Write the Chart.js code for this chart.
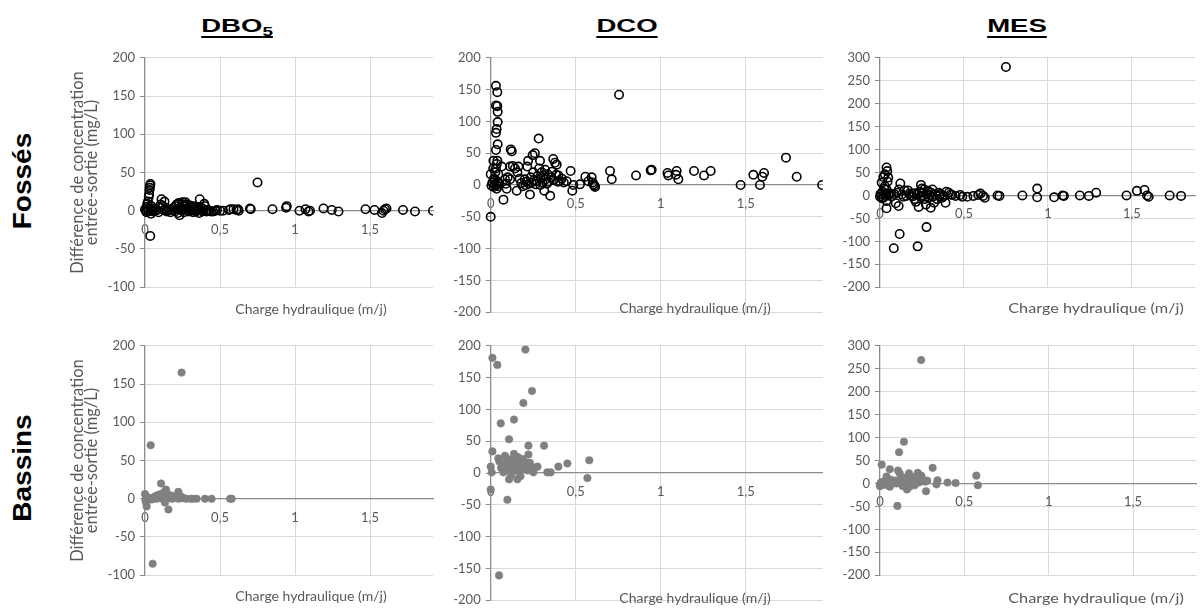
<!DOCTYPE html>
<html><head><meta charset="utf-8">
<script src="https://cdn.jsdelivr.net/npm/chart.js@4/dist/chart.umd.min.js"></script>
<style>
html,body{margin:0;padding:0;background:#fff;}
body{position:relative;width:1201px;height:610px;overflow:hidden;font-family:Lato,sans-serif;}
canvas{position:absolute;}
.hdr{position:absolute;top:13.7px;font:bold 19px "Liberation Sans",Arial,sans-serif;line-height:24px;color:#000;white-space:nowrap;
 text-decoration:underline;text-decoration-thickness:2px;text-underline-offset:4px;transform:translateX(-50%) scaleX(1.45);}
.hdr sub{font-size:13px;vertical-align:-4px;line-height:0;}
.row{position:absolute;font:bold 25px "Liberation Sans",Arial,sans-serif;line-height:25px;color:#000;white-space:nowrap;
 transform:translate(-50%,-50%) rotate(-90deg) scaleX(1.12);}
.xt{position:absolute;font:14px Lato,sans-serif;color:#595959;white-space:nowrap;transform:translate(-50%,-50%);}
.xt.w{transform:translate(-50%,-50%) scaleX(1.16);}
</style></head>
<body>
<div class="hdr" style="left:237px">DBO<sub>5</sub></div>
<div class="hdr" style="left:627px">DCO</div>
<div class="hdr" style="left:1017px">MES</div>
<div class="row" style="left:22px;top:181px">Fossés</div>
<div class="row" style="left:22px;top:468px">Bassins</div>

<canvas id="c1" width="380" height="255" style="left:60px;top:45px;width:380px;height:255px"></canvas>
<canvas id="c2" width="390" height="280" style="left:440px;top:45px;width:390px;height:280px"></canvas>
<canvas id="c3" width="371" height="255" style="left:830px;top:45px;width:371px;height:255px"></canvas>
<canvas id="c4" width="380" height="255" style="left:60px;top:333px;width:380px;height:255px"></canvas>
<canvas id="c5" width="390" height="280" style="left:440px;top:333px;width:390px;height:280px"></canvas>
<canvas id="c6" width="371" height="255" style="left:830px;top:333px;width:371px;height:255px"></canvas>

<div class="xt" style="left:311px;top:308px">Charge hydraulique (m/j)</div>
<div class="xt" style="left:695px;top:307px">Charge hydraulique (m/j)</div>
<div class="xt w" style="left:1096px;top:307px">Charge hydraulique (m/j)</div>
<div class="xt" style="left:311px;top:595px">Charge hydraulique (m/j)</div>
<div class="xt" style="left:695px;top:597px">Charge hydraulique (m/j)</div>
<div class="xt w" style="left:1096px;top:597px">Charge hydraulique (m/j)</div>

<script>
// ---- tick labels ----
const xTickLabels = ['0', '0,5', '1', '1,5'];
const yTitleLines = ['Différence de concentration', 'entrée-sortie (mg/L)'];

// ---- data: [charge hydraulique (m/j), différence entrée-sortie (mg/L)] ----
const dboFosses = [[0,2],[0.005,0],[0.01,-2],[0.012,5],[0.015,9],[0.018,3],[0.02,12],[0.022,-1],[0.025,18],[0.028,22],[0.03,27],[0.032,30],[0.034,33],[0.036,35],[0.035,-33],[0.038,2],[0.04,-4],[0.042,6],[0.045,0],[0.05,1],[0.055,-1],[0.06,3],[0.07,0],[0.08,1],[0.09,-2],[0.1,4],[0.105,8],[0.11,15],[0.12,6],[0.125,1],[0.13,12],[0.14,3],[0.145,-1],[0.15,0],[0.16,2],[0.17,-2],[0.18,1],[0.19,4],[0.2,-1],[0.205,6],[0.21,8],[0.215,2],[0.22,-3],[0.225,10],[0.23,-6],[0.235,4],[0.24,1],[0.245,8],[0.25,11],[0.255,3],[0.26,-2],[0.265,6],[0.27,11],[0.275,1],[0.28,8],[0.285,3],[0.29,-1],[0.295,5],[0.3,7],[0.305,2],[0.31,0],[0.315,4],[0.32,-2],[0.325,6],[0.33,1],[0.335,3],[0.34,-1],[0.345,0],[0.35,2],[0.355,5],[0.36,-3],[0.365,15],[0.37,1],[0.375,4],[0.38,0],[0.385,-1],[0.39,2],[0.395,9],[0.4,6],[0.41,-1],[0.42,1],[0.43,0],[0.44,-1],[0.455,-1],[0.47,0],[0.48,1],[0.5,0],[0.52,0],[0.56,1],[0.57,2],[0.59,2],[0.61,1],[0.62,2],[0.625,0],[0.7,3],[0.705,2],[0.75,37],[0.85,2],[0.94,4],[0.945,6],[1.03,0],[1.07,2],[1.09,-1],[1.1,0],[1.19,3],[1.245,1],[1.29,-1],[1.47,2],[1.53,1],[1.58,-3],[1.59,0],[1.6,2],[1.61,3],[1.72,1],[1.8,-1],[1.92,0]];

const dcoFosses = [[0,17],[0,-50],[0.005,-1],[0.01,4],[0.015,26],[0.016,38],[0.018,-3],[0.02,10],[0.022,1],[0.025,9],[0.028,20],[0.031,156],[0.031,125],[0.031,82],[0.031,55],[0.031,26],[0.033,0],[0.035,88],[0.035,-6],[0.036,33],[0.039,146],[0.039,124],[0.039,38],[0.04,5],[0.041,115],[0.041,99],[0.041,64],[0.043,-2],[0.045,17],[0.05,3],[0.065,29],[0.075,-23],[0.084,9],[0.09,2],[0.094,-6],[0.1,12],[0.114,9],[0.114,29],[0.118,56],[0.124,53],[0.13,30],[0.143,26],[0.153,-9],[0.157,20],[0.163,29],[0.17,10],[0.18,3],[0.19,-2],[0.2,9],[0.205,0],[0.21,5],[0.215,29],[0.22,38],[0.225,2],[0.231,-15],[0.235,12],[0.24,4],[0.247,47],[0.25,20],[0.255,8],[0.26,50],[0.265,1],[0.27,6],[0.275,14],[0.282,73],[0.285,26],[0.29,38],[0.292,0],[0.295,10],[0.3,20],[0.305,4],[0.31,15],[0.315,-9],[0.32,24],[0.325,9],[0.33,2],[0.335,17],[0.34,5],[0.35,-17],[0.355,12],[0.36,21],[0.368,41],[0.37,8],[0.378,35],[0.385,16],[0.388,32],[0.395,5],[0.398,15],[0.408,6],[0.418,10],[0.43,4],[0.447,6],[0.47,22],[0.48,-9],[0.486,0],[0.525,1],[0.557,13],[0.575,6],[0.594,12],[0.6,4],[0.604,1],[0.61,-1],[0.614,-3],[0.702,22],[0.712,9],[0.755,142],[0.855,15],[0.941,23],[0.947,24],[1.04,19],[1.045,15],[1.09,16],[1.094,22],[1.104,9],[1.196,22],[1.255,15],[1.294,22],[1.47,0],[1.545,16],[1.584,0],[1.598,13],[1.608,19],[1.737,43],[1.8,13],[1.95,0]];

const mesFosses = [[0,-3],[0.003,3],[0.006,2],[0.01,28],[0.012,-6],[0.015,8],[0.02,40],[0.02,-5],[0.025,15],[0.029,46],[0.029,20],[0.032,-1],[0.035,5],[0.039,61],[0.039,13],[0.039,-12],[0.039,-28],[0.043,53],[0.045,30],[0.049,39],[0.05,0],[0.06,4],[0.07,-2],[0.082,-115],[0.085,3],[0.094,-17],[0.1,6],[0.111,-23],[0.113,13],[0.117,-84],[0.121,26],[0.13,2],[0.14,-3],[0.146,11],[0.156,-1],[0.166,11],[0.175,4],[0.185,0],[0.195,-2],[0.2,5],[0.205,-8],[0.214,-14],[0.22,3],[0.224,-111],[0.23,-25],[0.235,8],[0.24,-3],[0.244,23],[0.25,15],[0.253,6],[0.258,0],[0.263,13],[0.265,-8],[0.273,-20],[0.277,-69],[0.28,4],[0.285,10],[0.29,-5],[0.295,1],[0.302,-27],[0.305,6],[0.312,13],[0.315,-3],[0.322,-16],[0.33,2],[0.34,-8],[0.35,6],[0.355,-1],[0.36,3],[0.37,-5],[0.38,-1],[0.39,-16],[0.395,8],[0.41,6],[0.42,2],[0.43,1],[0.45,-1],[0.478,1],[0.49,-3],[0.52,-3],[0.556,-1],[0.585,1],[0.598,4],[0.614,-1],[0.624,-5],[0.7,0],[0.711,-1],[0.75,280],[0.848,0],[0.936,15],[0.936,-4],[1.037,-4],[1.088,0],[1.095,-1],[1.19,0],[1.244,-1],[1.287,6],[1.468,0],[1.53,10],[1.575,12],[1.59,0],[1.6,-3],[1.725,0],[1.793,-1]];

const dboBassins = [[0,6],[0.003,-2],[0.007,-5],[0.011,-10],[0.015,2],[0.02,0],[0.033,1],[0.038,70],[0.045,-1],[0.051,-85],[0.06,2],[0.067,3],[0.075,0],[0.08,4],[0.089,5],[0.095,2],[0.1,1],[0.105,6],[0.107,20],[0.11,3],[0.115,0],[0.122,5],[0.125,8],[0.13,2],[0.133,-5],[0.14,12],[0.142,0],[0.144,3],[0.15,6],[0.156,-14],[0.16,2],[0.167,1],[0.175,4],[0.18,0],[0.189,3],[0.2,1],[0.211,2],[0.222,9],[0.225,0],[0.233,4],[0.244,165],[0.25,1],[0.256,1],[0.273,0],[0.304,0],[0.32,0],[0.344,0],[0.4,0],[0.444,0],[0.567,0],[0.578,0]];

const dcoBassins = [[0,10],[0,-26],[0.006,1],[0.01,181],[0.01,34],[0.039,170],[0.045,23],[0.049,-161],[0.051,18],[0.059,78],[0.061,8],[0.07,5],[0.075,1],[0.084,27],[0.09,16],[0.094,13],[0.098,-42],[0.1,22],[0.104,4],[0.108,53],[0.108,-10],[0.11,9],[0.114,18],[0.12,-3],[0.124,10],[0.13,20],[0.137,84],[0.137,30],[0.14,13],[0.143,4],[0.15,8],[0.153,16],[0.157,-10],[0.16,25],[0.165,2],[0.17,5],[0.173,18],[0.175,-5],[0.18,12],[0.182,7],[0.19,22],[0.192,110],[0.2,13],[0.204,194],[0.21,16],[0.216,4],[0.222,43],[0.222,29],[0.225,10],[0.231,16],[0.243,129],[0.245,5],[0.251,1],[0.26,8],[0.275,10],[0.314,43],[0.333,1],[0.353,1],[0.398,10],[0.451,15],[0.569,-8],[0.58,20]];

const mesBassins = [[0,-2],[0,-6],[0.005,2],[0.01,41],[0.02,4],[0.03,-3],[0.039,15],[0.045,5],[0.058,31],[0.058,-7],[0.065,8],[0.068,-1],[0.08,3],[0.09,6],[0.097,0],[0.103,-49],[0.107,28],[0.113,68],[0.117,22],[0.12,10],[0.127,6],[0.13,-3],[0.136,-6],[0.142,91],[0.145,12],[0.15,4],[0.16,-13],[0.165,15],[0.172,22],[0.175,-7],[0.18,8],[0.185,4],[0.19,14],[0.2,2],[0.205,-4],[0.21,10],[0.214,9],[0.224,23],[0.23,2],[0.235,13],[0.244,269],[0.244,17],[0.25,5],[0.253,9],[0.269,4],[0.273,-17],[0.28,6],[0.312,34],[0.335,-2],[0.341,7],[0.4,2],[0.448,1],[0.571,17],[0.58,-4]];

// ---- styling ----
const GRID = '#d9d9d9', AXIS = '#8c8c8c', TXT = '#595959';
const tickFont = {family: 'Lato', size: 13};

function makeChart(id, data, o) {
  const ds = o.filled
    ? {data: data.map(p => ({x: p[0], y: p[1]})), pointRadius: 3.8, pointBackgroundColor: '#808080', pointBorderColor: '#808080', pointBorderWidth: 0.5}
    : {data: data.map(p => ({x: p[0], y: p[1]})), pointRadius: 4.2, pointBackgroundColor: 'rgba(255,255,255,0)', pointBorderColor: '#000', pointBorderWidth: 1.6};
  ds.pointHoverRadius = ds.pointRadius;
  ds.clip = {left: 10, top: 10, right: 0, bottom: 10};
  return new Chart(document.getElementById(id), {
    type: 'scatter',
    data: {datasets: [ds]},
    options: {
      responsive: false, animation: false, devicePixelRatio: 1,
      layout: {padding: {top: o.pt, right: o.pr, bottom: o.pb, left: 0}},
      plugins: {legend: {display: false}, tooltip: {enabled: false}},
      scales: {
        x: {
          type: 'linear', position: {y: 0}, min: 0, max: o.xMax,
          grid: {color: c => c.tick && c.tick.value === 0 ? 'rgba(0,0,0,0)' : GRID, drawTicks: false, lineWidth: 1},
          border: {color: AXIS, width: 1.3},
          ticks: {stepSize: 0.5, includeBounds: false, autoSkip: false, maxRotation: 0, color: TXT, font: tickFont, padding: 11,
                  callback: (v, i) => xTickLabels[i]}
        },
        y: {
          type: 'linear', position: 'left', min: o.yMin, max: o.yMax,
          afterFit: s => { s.width = o.yw; },
          grid: {color: c => c.tick && c.tick.value === 0 ? 'rgba(0,0,0,0)' : GRID, drawTicks: true, tickLength: 5, tickColor: AXIS, lineWidth: 1},
          border: {color: AXIS, width: 1.3},
          ticks: {stepSize: 50, color: TXT, font: tickFont, padding: 5, callback: v => String(v)},
          title: {display: !!o.yTitle, text: yTitleLines, color: TXT, font: {family: 'Lato', size: 16.5, lineHeight: 0.85}, padding: {top: 11, bottom: 0}}
        }
      }
    }
  });
}

makeChart('c1', dboFosses, {xMax: 1.92, yMin: -100, yMax: 200, yw: 85, pt: 12.3, pr: 7, pb: 12.7, yTitle: true});
makeChart('c2', dcoFosses, {xMax: 1.953, yMin: -200, yMax: 200, yw: 50.7, pt: 12.3, pr: 7.3, pb: 9.3});
makeChart('c3', mesFosses, {xMax: 1.877, yMin: -200, yMax: 300, yw: 50, pt: 12.3, pr: 0, pb: 12.7});
makeChart('c4', dboBassins, {xMax: 1.92, yMin: -100, yMax: 200, yw: 85, pt: 12.7, pr: 7, pb: 12.3, yTitle: true, filled: true});
makeChart('c5', dcoBassins, {xMax: 1.953, yMin: -200, yMax: 200, yw: 50.7, pt: 12.7, pr: 7.3, pb: 9, filled: true});
makeChart('c6', mesBassins, {xMax: 1.877, yMin: -200, yMax: 300, yw: 50, pt: 12.7, pr: 0, pb: 12.3, filled: true});
</script>
</body></html>
